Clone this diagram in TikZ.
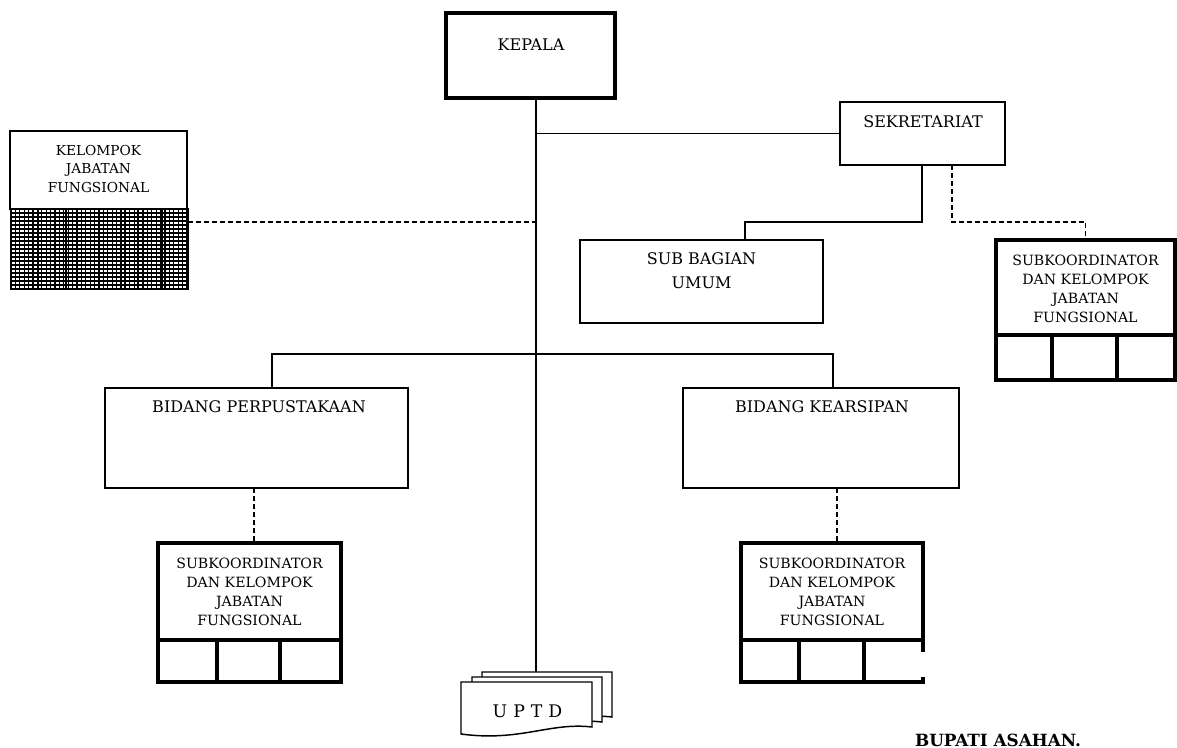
\documentclass[tikz,border=0pt]{standalone}
\usepackage{fontspec}
\setmainfont{DejaVu Serif}
\tikzset{
  thinln/.style={line width=1.1pt},
  thickln/.style={line width=2.3pt},
  dsh/.style={line width=1.1pt,dash pattern=on 3.5pt off 2.5pt},
  boxA/.style 2 args={draw,line width=1.1pt,inner sep=0pt,outer sep=0pt,minimum width=#1*0.75pt,minimum height=#2*0.75pt},
  boxB/.style 2 args={draw,line width=2.3pt,inner sep=0pt,outer sep=0pt,minimum width=#1*0.75pt,minimum height=#2*0.75pt},
  boxN/.style 2 args={inner sep=0pt,outer sep=0pt,minimum width=#1*0.75pt,minimum height=#2*0.75pt},
  txt/.style={font=\fontsize{10.6}{14.2}\selectfont,align=center,inner sep=0pt},
  txtL/.style={font=\fontsize{12}{18}\selectfont,align=center,inner sep=0pt},
}
\begin{document}
\begin{tikzpicture}[x=0.75pt,y=-0.75pt]
\useasboundingbox (0,0) rectangle (1177,748);

% KEPALA
\node[boxB={169}{85}] (kepala) at (530.5,55.5) {};
\node[txtL] (tkepala) at (531,45) {KEPALA};
% SEKRETARIAT
\node[boxA={165}{63}] (sek) at (922.5,133.5) {};
\node[txtL] (tsek) at (923,122) {SEKRETARIAT};
% SUB BAGIAN UMUM
\node[boxA={243}{83}] (subbag) at (701.5,281.5) {};
\node[txtL] (tsubbag) at (701.5,271) {SUB BAGIAN\\UMUM};
% KELOMPOK JABATAN FUNGSIONAL
\node[boxA={177}{78}] (kjf) at (98.5,170) {};
\node[txt,font=\fontsize{10.3}{14.2}\selectfont] (tkjf) at (98.5,169) {KELOMPOK\\JABATAN\\FUNGSIONAL};
\node[boxN={177}{80}] (grid) at (99.5,249) {};
\begin{scope}
\clip (grid.north west) rectangle (grid.south east);
\foreach \i in {0,...,20} \draw[line width=0.9pt] (11,209+\i*4) -- (188,209+\i*4);
\foreach \i in {0,...,40} \draw[line width=0.9pt] (11+\i*4.4,209) -- (11+\i*4.4,289);
\foreach \xx in {38,66,125,138,162} \draw[line width=1.5pt] (\xx,209) -- (\xx,289);
\end{scope}
\draw[line width=1.4pt] (grid.north west) rectangle (grid.south east);

% SUBKOORDINATOR (top right)
\node[boxB={179}{140}] (sk1) at (1085.5,310) {};
\node[txt] (tsk1) at (1085.5,288.5) {SUBKOORDINATOR\\DAN KELOMPOK\\JABATAN\\FUNGSIONAL};
\draw[thickln] (996,335) -- (1175,335) (1052,335) -- (1052,380) (1117,335) -- (1117,380);

% BIDANG PERPUSTAKAAN
\node[boxA={303}{100}] (bp) at (256.5,438) {};
\node[txtL] (tbp) at (259,407) {BIDANG PERPUSTAKAAN};
% BIDANG KEARSIPAN
\node[boxA={276}{100}] (bk) at (821,438) {};
\node[txtL] (tbk) at (822,407) {BIDANG KEARSIPAN};

% SUBKOORDINATOR (bottom left)
\node[boxB={183}{139}] (sk2) at (249.5,612.5) {};
\node[txt] (tsk2) at (249.5,591.5) {SUBKOORDINATOR\\DAN KELOMPOK\\JABATAN\\FUNGSIONAL};
\draw[thickln] (158,640) -- (341,640) (217,640) -- (217,682) (280,640) -- (280,682);

% SUBKOORDINATOR (bottom right, open right side)
\node[boxN={182}{139}] (sk3) at (832,612.5) {};
\draw[thickln] (923,652) -- (923,543) -- (741,543) -- (741,682) -- (923,682) -- (923,677);
\node[txt] (tsk3) at (832,591.5) {SUBKOORDINATOR\\DAN KELOMPOK\\JABATAN\\FUNGSIONAL};
\draw[thickln] (741,640) -- (923,640) (799,640) -- (799,682) (864,640) -- (864,682);

% UPTD stacked documents
\node[boxN={131}{55}] (uptd3) at (546.5,699.5) {};
\draw[thinln,fill=white] (482,672) -- (612,672) -- (612,717) .. controls (570,712) and (540,732) .. (482,724) -- cycle;
\draw[thinln,fill=white] (472,677) -- (602,677) -- (602,722) .. controls (560,717) and (530,737) .. (472,729) -- cycle;
\draw[thinln,fill=white] (461,682) -- (592,682) -- (592,727) .. controls (550,722) and (520,742) .. (461,734) -- cycle;
\node[inner sep=0pt,font=\fontsize{13}{15}\selectfont] (tuptd) at (527.5,711) {U\hspace{4.5pt}P\hspace{4.5pt}T\hspace{4.5pt}D};

% BUPATI
\node[inner sep=0pt,font=\fontsize{12.6}{14}\selectfont\bfseries] (bupati) at (998,740) {BUPATI ASAHAN.};

% connectors
\coordinate (trunktop) at (536,98);
\coordinate (trunkbot) at (536,672);
\draw[thinln] (trunktop) -- (trunkbot);
\draw[thinln] (sek.west) -- (sek.west -| trunktop);
\coordinate (sekA) at (922,165);
\coordinate (sekB) at (745,222);
\draw[thinln] (sekA) |- (sekB) -- (sekB |- subbag.north);
\coordinate (sekC) at (952,165);
\draw[dsh] (sekC) |- (1085.5,222) -- (sk1.north);
\draw[dsh] (grid.east |- 0,222) -- (trunktop |- 0,222);
\coordinate (busL) at (272,354);
\coordinate (busR) at (833,354);
\draw[thinln] (busL |- bp.north) -- (busL) -- (busR) -- (busR |- bk.north);
\draw[dsh] (254,488) -- (254,543);
\draw[dsh] (837,488) -- (837,543);
\end{tikzpicture}
\end{document}
